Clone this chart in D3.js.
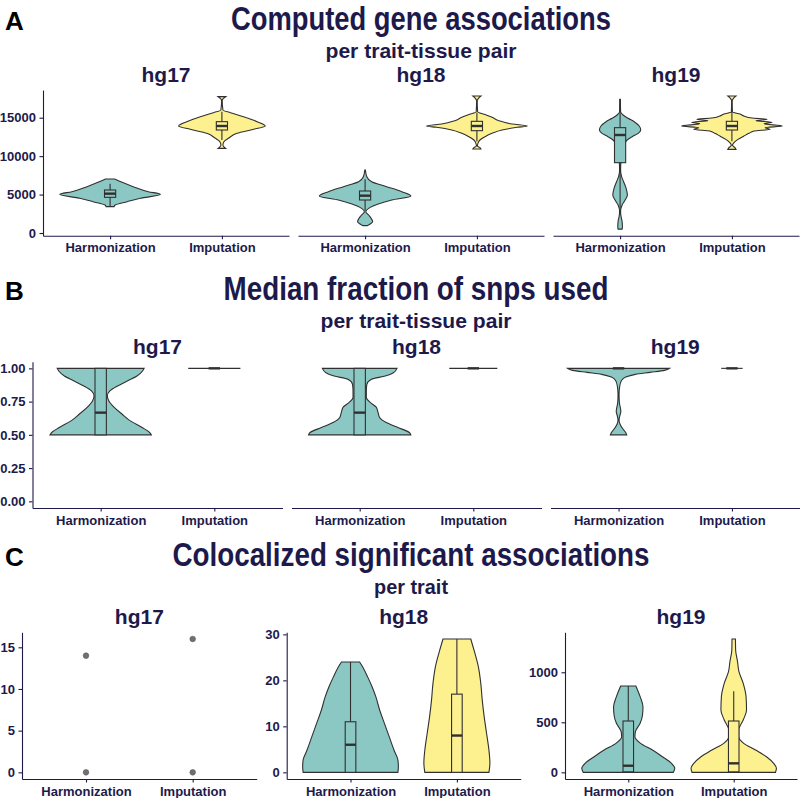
<!DOCTYPE html>
<html>
<head>
<meta charset="utf-8">
<script src="https://cdn.jsdelivr.net/npm/d3@7"></script>
<style>
  body { margin: 0; background: #fff; }
  svg { display: block; }
</style>
</head>
<body>
<div id="vis"></div>
<script>
// categories and facets
const categories = ['Harmonization', 'Imputation'];
const builds = ['hg17', 'hg18', 'hg19'];

// violin profiles: [value, relative half-width (1 = widest violin of the panel)]
// A - computed gene associations per trait-tissue pair
const aHg17Harm = [[7025,.09],[6600,.24],[6028,.46],[5377,.76],[5030,1.0],[4510,.60],[4077,.34],[3642,.10],[3425,.08]];
const aHg17Imp = [[17735,.074],[17518,.03],[17214,.006],[16001,.02],[15654,.17],[15134,.43],[14483,.70],[13920,.86],[13486,.63],[12966,.30],[12316,.13],[11882,.04],[11448,.02],[11200,.04],[11013,.074]];
const aHg18Harm = [[8196,.006],[7328,.034],[6677,.13],[6028,.43],[5377,.73],[4813,.91],[4293,.53],[3773,.26],[3209,.07],[2775,.014],[2342,.07],[1908,.12],[1474,.15],[1171,.10],[954,.04]];
const aHg18Imp = [[17822,.08],[17518,.03],[17214,.006],[15784,.014],[15437,.145],[15048,.30],[14613,.44],[14180,.70],[13920,1.0],[13747,.80],[13399,.50],[12966,.30],[12532,.16],[12098,.06],[11665,.02],[11318,.01],[11100,.06],[10927,.08]];
const aHg19Harm = [[17390,.006],[15784,.01],[15351,.06],[14917,.16],[14483,.28],[13920,.38],[13399,.41],[12966,.36],[12532,.24],[12098,.14],[11448,.08],[10580,.05],[9497,.02],[8196,.01],[7328,.03],[6677,.07],[5810,.12],[4943,.145],[4293,.10],[3643,.04],[2775,.01],[2125,.02],[1474,.04],[823,.046],[500,.04]];
const aHg19Imp = [[17822,.08],[17518,.03],[17214,.006],[15741,.01],[15481,.16],[15221,.24],[14960,.40],[14787,.70],[14613,.48],[14397,.80],[14223,.64],[13920,1.0],[13703,.66],[13486,.76],[13269,.44],[12966,.34],[12619,.24],[12185,.12],[11752,.04],[11405,.01],[11100,.06],[10884,.08]];
// boxes: [lower whisker, q1, median, q3, upper whisker]
const aBoxes = {
  hg17: [[3450,4640,5117,5594,6400],[12100,13400,13920,14483,15784]],
  hg18: [[2900,4293,4856,5464,7000],[11900,13312,13920,14527,15650]],
  hg19: [[2400,9150,12749,13703,17390],[11950,13399,13920,14527,15750]]
};
const aTicks = [0, 5000, 10000, 15000];

// B - median fraction of snps used
const bHg17Harm = [[1.0,.85],[.98,.82],[.9425,.71],[.905,.52],[.8675,.33],[.83,.18],[.7925,.13],[.755,.16],[.705,.27],[.655,.42],[.605,.58],[.555,.81],[.5175,.96],[.5,.99]];
const bHg18Harm = [[1.0,.73],[.9675,.66],[.9425,.50],[.9175,.23],[.88,.14],[.83,.13],[.78,.13],[.7425,.21],[.71,.32],[.6675,.36],[.63,.39],[.5925,.52],[.555,.75],[.5175,.97],[.5,1.0]];
const bHg19Harm = [[1.0,1.0],[.985,.90],[.97,.62],[.955,.33],[.935,.14],[.91,.06],[.8675,.024],[.805,.01],[.7425,.016],[.705,.035],[.675,.045],[.6425,.024],[.61,.01],[.58,.03],[.5425,.09],[.5175,.14],[.5,.16]];
// imputation: every value equals 1, the violin collapses to a line of this width
const bImpWidth = { hg17: .51, hg18: .47, hg19: .21 };
const bBoxes = {
  hg17: [[.5,.5,.667,1,1],[1,1,1,1,1]],
  hg18: [[.5,.5,.667,1,1],[1,1,1,1,1]],
  hg19: [[1,1,1,1,1],[1,1,1,1,1]]
};
const bTicks = [0, 0.25, 0.5, 0.75, 1];

// C - colocalized significant associations per trait
const cHg17Points = { Harmonization: [0, 14], Imputation: [0, 16] };
const cHg18Harm = [[24,.19],[22.9,.255],[20.7,.36],[18.6,.45],[16.4,.53],[13.5,.61],[10.6,.71],[7.7,.81],[4.8,.91],[2.7,.99],[1.2,1.0],[0,.99]];
const cHg18Imp = [[29,.29],[26.5,.36],[22.9,.45],[19.3,.50],[15.7,.53],[12.1,.57],[8.5,.62],[4.8,.67],[2.0,.69],[0,.67]];
const cHg19Harm = [[863,.16],[756,.25],[656,.31],[573,.30],[490,.25],[406,.15],[356,.14],[290,.26],[223,.51],[156,.72],[90,.91],[40,.98],[0,.95]];
const cHg19Imp = [[1333,.036],[1223,.04],[1106,.08],[1006,.11],[890,.20],[756,.26],[623,.27],[523,.20],[423,.105],[356,.105],[290,.21],[223,.46],[156,.69],[90,.84],[40,.90],[0,.88]];
const cBoxes = {
  hg18: [[0,0,6,11,24],[0,0,8,17,29]],
  hg19: [[0,5,66,513,863],[0,5,90,513,810]]
};
const cTicks = { hg17: [0,5,10,15], hg18: [0,10,20,30], hg19: [0,500,1000] };
const cMax = { hg17: 16, hg18: 29, hg19: 1333 };

const fills = { Harmonization: '#8cc8c3', Imputation: '#fdf08f' };
const ink = '#1d1a4b';
const lineCol = '#303030';

const W = 800, H = 798;
const svg = d3.select('#vis').append('svg')
  .attr('width', W).attr('height', H)
  .attr('viewBox', [0, 0, W, H].join(' '));

const narrow = "'Liberation Sans Narrow', 'Liberation Sans', Arial, sans-serif";
const sans = "'Liberation Sans', Arial, sans-serif";

function heading(letter, title, sub, cx, titleW, subW, yTitle, ySub) {
  svg.append('text').attr('x', 5).attr('y', yTitle)
    .attr('font-family', narrow).attr('font-weight', 'bold').attr('font-size', 26)
    .attr('fill', '#000').text(letter);
  svg.append('text').attr('x', cx).attr('y', yTitle).attr('text-anchor', 'middle')
    .attr('font-family', narrow).attr('font-weight', 'bold').attr('font-size', 33)
    .attr('textLength', titleW).attr('lengthAdjust', 'spacingAndGlyphs')
    .attr('fill', ink).text(title);
  svg.append('text').attr('x', cx).attr('y', ySub).attr('text-anchor', 'middle')
    .attr('font-family', narrow).attr('font-weight', 'bold').attr('font-size', 21)
    .attr('textLength', subW).attr('lengthAdjust', 'spacingAndGlyphs')
    .attr('fill', ink).text(sub);
}

function makePanel(x0, x1, top, bottom, domain, ticks, showY, build, fmt) {
  const g = svg.append('g');
  const x = d3.scalePoint().domain(categories).range([x0, x1]).padding(0.6);
  const y = d3.scaleLinear().domain(domain).range([bottom, top]);
  const w = d3.scaleLinear().domain([0, 1]).range([0, 0.45 * x.step()]);

  g.append('text').attr('x', (x0 + x1) / 2).attr('y', top - 8).attr('text-anchor', 'middle')
    .attr('font-family', sans).attr('font-weight', 'bold').attr('font-size', 21)
    .attr('fill', ink).text(build);

  const xa = g.append('g').attr('transform', `translate(0,${bottom})`)
    .call(d3.axisBottom(x).tickSize(3.5).tickSizeOuter(0).tickPadding(4));
  styleAxis(xa);
  if (showY) {
    const ya = g.append('g').attr('transform', `translate(${x0},0)`)
      .call(d3.axisLeft(y).tickValues(ticks).tickFormat(fmt).tickSize(3.5).tickSizeOuter(0).tickPadding(3.5));
    styleAxis(ya);
  }
  return { g, x, y, w };
}

function styleAxis(a) {
  a.selectAll('path, line').attr('stroke', ink).attr('stroke-width', 1.1);
  a.selectAll('text').attr('font-family', sans).attr('font-weight', 'bold')
    .attr('font-size', 13).attr('fill', ink);
}

function violin(p, cat, profile) {
  const cx = p.x(cat);
  const area = d3.area().curve(d3.curveMonotoneY)
    .y(d => p.y(d[0]))
    .x0(d => cx - p.w(d[1]))
    .x1(d => cx + p.w(d[1]));
  p.g.append('path').attr('d', area(profile))
    .attr('fill', fills[cat]).attr('stroke', lineCol).attr('stroke-width', 1.1);
}

function flatViolin(p, cat, value, width) {
  const cx = p.x(cat);
  p.g.append('line')
    .attr('x1', cx - p.w(width)).attr('x2', cx + p.w(width))
    .attr('y1', p.y(value)).attr('y2', p.y(value))
    .attr('stroke', lineCol).attr('stroke-width', 1.1);
}

function box(p, cat, b) {
  const cx = p.x(cat), hw = 0.05 * p.x.step();
  const [lo, q1, med, q3, hi] = b;
  p.g.append('line').attr('x1', cx).attr('x2', cx).attr('y1', p.y(hi)).attr('y2', p.y(q3))
    .attr('stroke', lineCol).attr('stroke-width', 1.1);
  p.g.append('line').attr('x1', cx).attr('x2', cx).attr('y1', p.y(q1)).attr('y2', p.y(lo))
    .attr('stroke', lineCol).attr('stroke-width', 1.1);
  p.g.append('rect').attr('x', cx - hw).attr('width', 2 * hw)
    .attr('y', p.y(q3)).attr('height', Math.max(0, p.y(q1) - p.y(q3)))
    .attr('fill', fills[cat]).attr('stroke', lineCol).attr('stroke-width', 1.1);
  p.g.append('line').attr('x1', cx - hw).attr('x2', cx + hw).attr('y1', p.y(med)).attr('y2', p.y(med))
    .attr('stroke', lineCol).attr('stroke-width', 2.4);
}

// ---------- A ----------
heading('A', 'Computed gene associations', 'per trait-tissue pair', 421, 380, 191, 30, 58);
const aViolins = { hg17: [aHg17Harm, aHg17Imp], hg18: [aHg18Harm, aHg18Imp], hg19: [aHg19Harm, aHg19Imp] };
const aX = [[43, 289], [298, 544], [553, 799]];
builds.forEach((b, i) => {
  const p = makePanel(aX[i][0], aX[i][1], 90, 235.7, [-351, 18603], aTicks, i === 0, b, d3.format('d'));
  categories.forEach((c, j) => {
    violin(p, c, aViolins[b][j]);
    box(p, c, aBoxes[b][j]);
  });
});

// ---------- B ----------
heading('B', 'Median fraction of snps used', 'per trait-tissue pair', 416, 385, 191, 300, 328);
const bViolins = { hg17: bHg17Harm, hg18: bHg18Harm, hg19: bHg19Harm };
const bX = [[32.5, 282.5], [291.5, 541.5], [550.5, 800]];
builds.forEach((b, i) => {
  const p = makePanel(bX[i][0], bX[i][1], 361.7, 508, [-0.05, 1.05], bTicks, i === 0, b, d3.format('.2f'));
  violin(p, 'Harmonization', bViolins[b]);
  flatViolin(p, 'Imputation', 1, bImpWidth[b]);
  box(p, 'Harmonization', bBoxes[b][0]);
  box(p, 'Imputation', bBoxes[b][1]);
});

// ---------- C ----------
heading('C', 'Colocalized significant associations', 'per trait', 411, 477, 74, 566, 594);
const cX = [[22, 256.7], [286.7, 520.7], [565, 797]];
const cViolins = { hg18: [cHg18Harm, cHg18Imp], hg19: [cHg19Harm, cHg19Imp] };
builds.forEach((b, i) => {
  const pad = cMax[b] * 0.05;
  const p = makePanel(cX[i][0], cX[i][1], 632.3, 779, [-pad, cMax[b] + pad], cTicks[b], true, b, d3.format('d'));
  if (b === 'hg17') {
    categories.forEach(c => {
      p.g.selectAll(null).data(cHg17Points[c]).join('circle')
        .attr('cx', p.x(c)).attr('cy', d => p.y(d)).attr('r', 2.8)
        .attr('fill', '#707070').attr('stroke', '#5a5a5a').attr('stroke-width', 0.6);
    });
  } else {
    categories.forEach((c, j) => {
      violin(p, c, cViolins[b][j]);
      box(p, c, cBoxes[b][j]);
    });
  }
});
</script>
</body>
</html>
